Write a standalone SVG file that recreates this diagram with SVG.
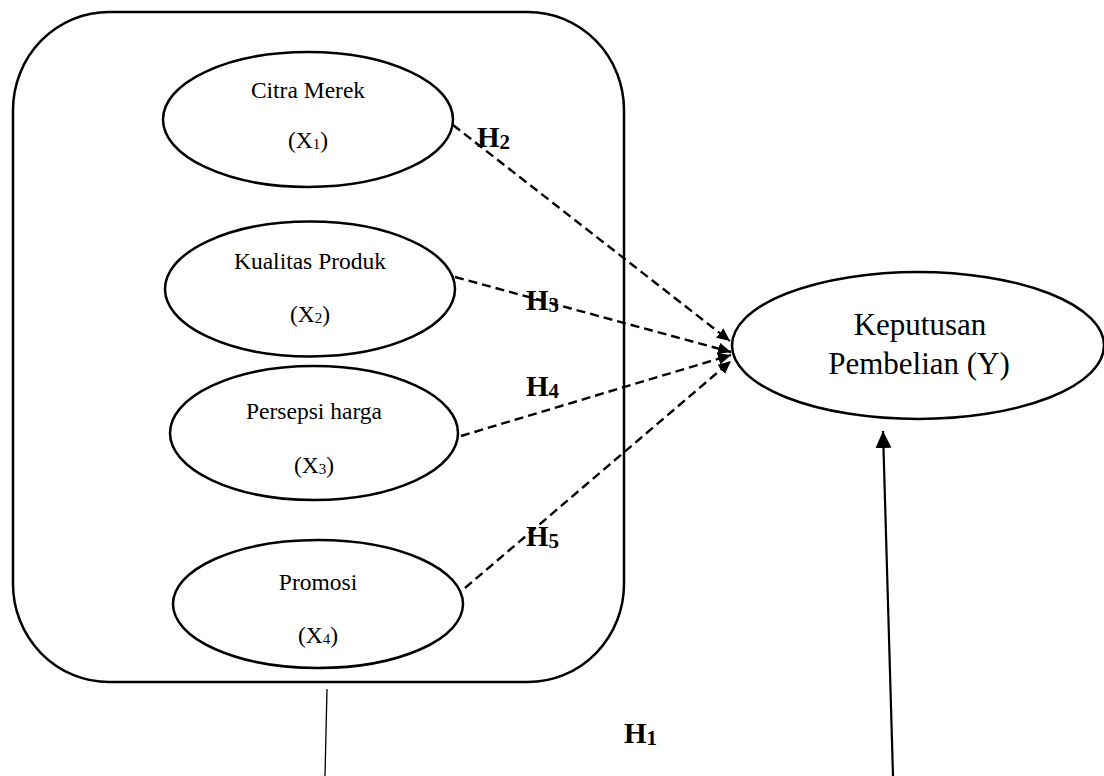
<svg xmlns="http://www.w3.org/2000/svg" width="1104" height="776" viewBox="0 0 1104 776">
<style>
.shape{fill:none;stroke:#000;stroke-width:2.5}
.lbl{font-family:"Liberation Serif","Times New Roman",serif;font-size:23.5px;fill:#000;text-anchor:middle}
.big{font-family:"Liberation Serif","Times New Roman",serif;font-size:31px;fill:#000;text-anchor:middle}
.h{font-family:"Liberation Serif","Times New Roman",serif;font-size:29px;font-weight:bold;fill:#000}
.sub{font-size:15px}
.hsub{font-size:21px}
.dash{fill:none;stroke:#000;stroke-width:2.4;stroke-dasharray:9 5}
.solid{fill:none;stroke:#000;stroke-width:2.2}
</style>
<defs>
<marker id="ah" markerUnits="userSpaceOnUse" markerWidth="14" markerHeight="12" refX="13" refY="6" orient="auto">
<path d="M0,0 L13,6 L0,12 z" fill="#000"/>
</marker>
<marker id="ah2" markerUnits="userSpaceOnUse" markerWidth="18" markerHeight="16" refX="17" refY="8" orient="auto">
<path d="M0,0 L17,8 L0,16 z" fill="#000"/>
</marker>
</defs>
<rect id="box" class="shape" x="13" y="12" width="611" height="670" rx="96" ry="98"/>
<g id="node-x1">
<ellipse class="shape" cx="308" cy="119.5" rx="145" ry="67.5"/>
<text class="lbl" x="308" y="98">Citra Merek</text>
<text class="lbl" x="308" y="148">(X<tspan class="sub" dy="1">1</tspan><tspan dy="-1">)</tspan></text>
</g>
<g id="node-x2">
<ellipse class="shape" cx="310" cy="289" rx="145" ry="67.5"/>
<text class="lbl" x="310" y="269">Kualitas Produk</text>
<text class="lbl" x="310" y="322">(X<tspan class="sub" dy="1">2</tspan><tspan dy="-1">)</tspan></text>
</g>
<g id="node-x3">
<ellipse class="shape" cx="314" cy="433" rx="144" ry="67"/>
<text class="lbl" x="314" y="419">Persepsi harga</text>
<text class="lbl" x="314" y="473">(X<tspan class="sub" dy="1">3</tspan><tspan dy="-1">)</tspan></text>
</g>
<g id="node-x4">
<ellipse class="shape" cx="318" cy="604" rx="145" ry="64"/>
<text class="lbl" x="318" y="590">Promosi</text>
<text class="lbl" x="318" y="643">(X<tspan class="sub" dy="1">4</tspan><tspan dy="-1">)</tspan></text>
</g>
<g id="node-y">
<ellipse class="shape" cx="918" cy="345.5" rx="186" ry="73.5"/>
<text class="big" x="920" y="335">Keputusan</text>
<text class="big" x="919" y="374">Pembelian (Y)</text>
</g>
<g id="connectors">
<path class="dash" d="M453,125 L730,341" marker-end="url(#ah)"/>
<path class="dash" d="M455,277 L731,352" marker-end="url(#ah)"/>
<path class="dash" d="M461,436 L731,355" marker-end="url(#ah)"/>
<path class="dash" d="M465,588 L731,361" marker-end="url(#ah)"/>
<path fill="none" stroke="#000" stroke-width="1.3" d="M327,689 L325,776"/>
<path class="solid" d="M893,776 L883,431" marker-end="url(#ah2)"/>
</g>
<g id="labels">
<text class="h" x="477" y="147">H<tspan class="hsub" dy="2">2</tspan></text>
<text class="h" x="526" y="310">H<tspan class="hsub" dy="2">3</tspan></text>
<text class="h" x="526" y="396">H<tspan class="hsub" dy="2">4</tspan></text>
<text class="h" x="526" y="546">H<tspan class="hsub" dy="2">5</tspan></text>
<text class="h" x="624" y="743">H<tspan class="hsub" dy="2">1</tspan></text>
</g>
</svg>
